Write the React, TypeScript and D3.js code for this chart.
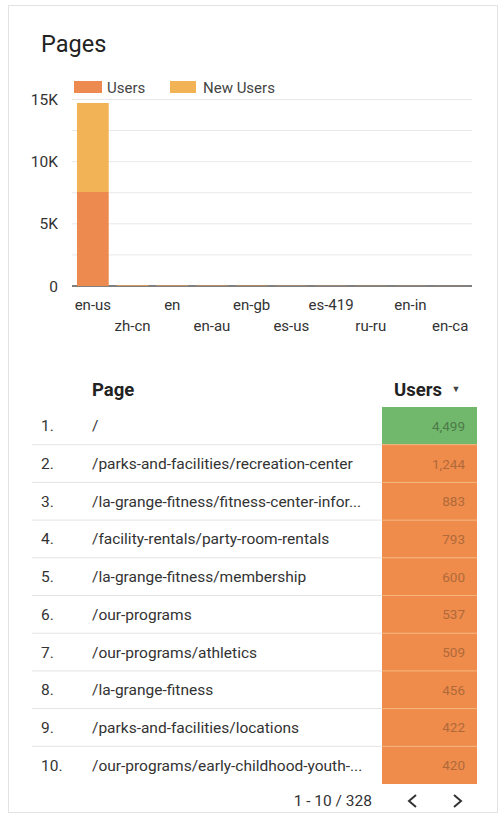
import React from "react";
import * as d3 from "d3";

const languages = ["en-us", "zh-cn", "en", "en-au", "en-gb", "es-us", "es-419", "ru-ru", "en-in", "en-ca"];
const users = [7560, 40, 30, 25, 20, 15, 12, 10, 8, 6];
const newUsers = [7160, 38, 28, 22, 18, 14, 11, 9, 7, 5];
const yTicks = [0, 5000, 10000, 15000];
const gridValues = [0, 2500, 5000, 7500, 10000, 12500, 15000];

const pages = [
  "/",
  "/parks-and-facilities/recreation-center",
  "/la-grange-fitness/fitness-center-infor...",
  "/facility-rentals/party-room-rentals",
  "/la-grange-fitness/membership",
  "/our-programs",
  "/our-programs/athletics",
  "/la-grange-fitness",
  "/parks-and-facilities/locations",
  "/our-programs/early-childhood-youth-...",
];
const pageUsers = [4499, 1244, 883, 793, 600, 537, 509, 456, 422, 420];
const pagination = "1 - 10 / 328";

const FONT = "Roboto, 'Noto Sans', sans-serif";
const C_USERS = "#ec8a4f";
const C_NEW = "#f2b356";

export default function App() {
  const x = d3.scaleBand<string>().domain(languages).range([73, 470]).paddingInner(0.2).paddingOuter(0.1);
  const y = d3.scaleLinear().domain([0, 15000]).range([286, 99.5]);
  const fmtK = (v: number) => (v === 0 ? "0" : `${v / 1000}K`);

  const rowTop = 407;
  const rowH = 37.7;
  const rowScale = d3.scaleLinear().domain([0, 1]).range([rowTop, rowTop + rowH]);
  const maxUsers = d3.max(pageUsers) as number;

  return (
    <svg width={499} height={818} style={{ position: "absolute", left: 0, top: 0, background: "#fff" }} fontFamily={FONT}>
      <rect x={8.5} y={5.5} width={489} height={807} fill="#fff" stroke="#e3e3e3" />
      <text x={41} y={52} fontSize={23.5} fill="#222">Pages</text>

      {/* legend */}
      <rect x={74} y={81} width={28} height={12} fill={C_USERS} />
      <text x={107} y={93} fontSize={15} fill="#444">Users</text>
      <rect x={170} y={81} width={26} height={12} fill={C_NEW} />
      <text x={203} y={93} fontSize={15} fill="#444">New Users</text>

      {/* grid */}
      {gridValues.map((v) => (
        <line key={v} x1={72} x2={472} y1={y(v)} y2={y(v)} stroke={v === 0 ? "#555" : "#e8e8e8"} strokeWidth={v === 0 ? 1.5 : 1} />
      ))}
      {yTicks.map((v) => (
        <text key={v} x={58} y={y(v) + 5.5} fontSize={15.5} textAnchor="end" fill="#333">{fmtK(v)}</text>
      ))}

      {/* bars */}
      {languages.map((l, i) => (
        <g key={l}>
          <rect x={x(l)} width={x.bandwidth()} y={y(users[i])} height={y(0) - y(users[i])} fill={C_USERS} />
          <rect x={x(l)} width={x.bandwidth()} y={y(users[i] + newUsers[i])} height={y(users[i]) - y(users[i] + newUsers[i])} fill={C_NEW} />
          <text x={(x(l) as number) + x.bandwidth() / 2} y={i % 2 === 0 ? 310 : 331} fontSize={15} textAnchor="middle" fill="#333">{l}</text>
        </g>
      ))}

      {/* table header */}
      <text x={92} y={396} fontSize={18.5} fontWeight="bold" fill="#222">Page</text>
      <text x={442} y={396} fontSize={18.5} fontWeight="bold" fill="#222" textAnchor="end">Users</text>
      <text x={456} y={392} fontSize={9} fill="#444" textAnchor="middle">▼</text>

      {pages.map((p, i) => {
        const top = rowScale(i);
        const bottom = rowScale(i + 1);
        const mid = (top + bottom) / 2;
        const isMax = pageUsers[i] === maxUsers;
        return (
          <g key={p}>
            <rect x={382} y={top} width={95} height={bottom - top} fill={isMax ? "#71b86c" : "#ef8c4c"} />
            {i > 0 && <line x1={382} x2={477} y1={top} y2={top} stroke="#f6b47c" strokeWidth={1} />}
            {i < pages.length - 1 && <line x1={32} x2={382} y1={bottom} y2={bottom} stroke="#e4e4e4" />}
            <text x={41} y={mid + 5.5} fontSize={15.5} fill="#333">{`${i + 1}.`}</text>
            <text x={92} y={mid + 5.5} fontSize={15.5} fill="#333">{p}</text>
            <text x={465} y={mid + 5} fontSize={13.5} textAnchor="end" fill={isMax ? "#4d7a4a" : "#b06a3a"}>{d3.format(",")(pageUsers[i])}</text>
          </g>
        );
      })}

      <text x={372} y={806} fontSize={15.5} textAnchor="end" fill="#333">{pagination}</text>
      <path d="M416,795 L409,801 L416,807" fill="none" stroke="#333" strokeWidth={2} />
      <path d="M454,795 L461,801 L454,807" fill="none" stroke="#333" strokeWidth={2} />
    </svg>
  );
}
